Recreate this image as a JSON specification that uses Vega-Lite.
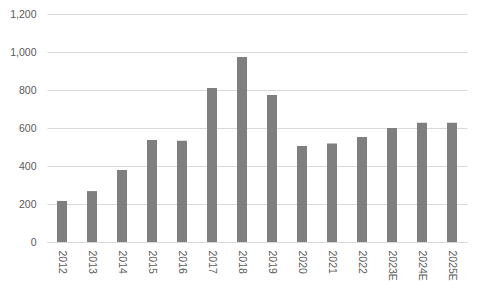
{
  "$schema": "https://vega.github.io/schema/vega-lite/v6.json",
  "width": 420,
  "height": 228,
  "autosize": "none",
  "padding": {"left": 47, "top": 14, "right": 14, "bottom": 47},
  "background": "white",
  "config": {
    "view": {"stroke": null},
    "font": "Liberation Sans",
    "axis": {"labelFont": "Liberation Sans", "labelFontSize": 10.5, "labelColor": "#595959"}
  },
  "data": {
    "values": [
      {"year": "2012", "value": 216},
      {"year": "2013", "value": 268},
      {"year": "2014", "value": 379},
      {"year": "2015", "value": 537},
      {"year": "2016", "value": 533},
      {"year": "2017", "value": 810},
      {"year": "2018", "value": 974},
      {"year": "2019", "value": 774},
      {"year": "2020", "value": 505},
      {"year": "2021", "value": 518},
      {"year": "2022", "value": 553},
      {"year": "2023E", "value": 600},
      {"year": "2024E", "value": 627},
      {"year": "2025E", "value": 627}
    ]
  },
  "mark": {"type": "bar", "color": "#7f7f7f", "width": 10},
  "encoding": {
    "x": {
      "field": "year",
      "type": "nominal",
      "sort": null,
      "title": null,
      "scale": {"paddingInner": 0, "paddingOuter": 0},
      "axis": {"labelAngle": 90, "ticks": false, "domainColor": "#d9d9d9", "labelPadding": 8, "labelBaseline": "middle", "labelAlign": "left"}
    },
    "y": {
      "field": "value",
      "type": "quantitative",
      "title": null,
      "scale": {"domain": [0, 1200]},
      "axis": {"values": [0, 200, 400, 600, 800, 1000, 1200], "format": ",.0f", "ticks": false, "domain": false, "gridColor": "#d9d9d9", "labelPadding": 11}
    }
  }
}
